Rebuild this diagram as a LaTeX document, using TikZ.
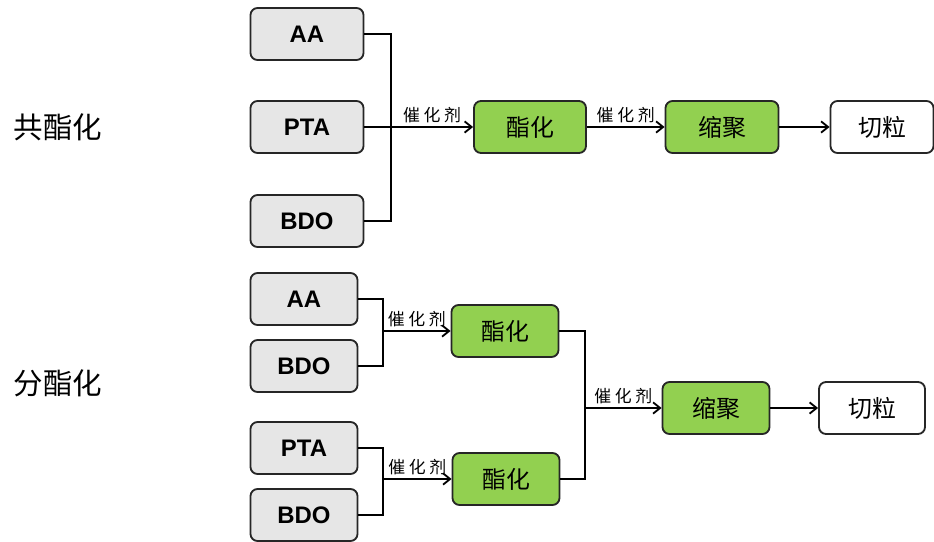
\documentclass[tikz,border=0pt]{standalone}
\usepackage{fontspec}
\setsansfont{Liberation Sans}
\newfontfamily\cjk{Noto Sans CJK SC}
\newfontfamily\cjkwide[LetterSpace=22]{Noto Sans CJK SC}
\usetikzlibrary{arrows.meta}
\definecolor{FeedGray}{RGB}{230,230,230}
\definecolor{StepGreen}{RGB}{146,208,80}

\begin{document}
\begin{tikzpicture}[x=0.025cm,y=-0.025cm,line width=1.3pt,
  box/.style n args={3}{draw=black!85,fill=#1,rounded corners=5pt,minimum width=#2*0.025cm,minimum height=#3*0.025cm,inner sep=0pt},
  feed/.style={box={FeedGray}{#1}{52},font=\sffamily\bfseries\fontsize{17}{17}\selectfont},
  proc/.style={box={StepGreen}{#1}{52},font=\cjk\fontsize{17}{17}\selectfont},
  cut/.style={box={white}{#1}{52},font=\cjk\fontsize{17}{17}\selectfont},
  cat/.style={above,inner sep=2pt,font=\cjkwide\fontsize{12}{12}\selectfont},
  arr/.style={-{Straight Barb[length=5pt,width=8pt]}}]
\useasboundingbox (0,0) rectangle (934,541);
% row labels
\node[font=\cjk\fontsize{21}{21}\selectfont] (lab1) at (58,127) {共酯化};
\node[font=\cjk\fontsize{21}{21}\selectfont] (lab2) at (58,383) {分酯化};
% co-esterification
\node[feed=113] (aa1) at (307,34) {AA};
\node[feed=113] (pta1) at (307,127) {PTA};
\node[feed=113] (bdo1) at (307,221) {BDO};
\node[proc=112] (est1) at (530,127) {酯化};
\node[proc=113] (poly1) at (722,127) {缩聚};
\node[cut=103] (pel1) at (882,127) {切粒};
\coordinate (j1) at (391,127);
\draw (aa1.east) -| (j1) |- (bdo1.east);
\draw (pta1.east) -- (j1);
\draw[arr] (j1) -- node[cat] {催化剂} (est1);
\draw[arr] (est1) -- node[cat] {催化剂} (poly1);
\draw[arr] (poly1) -- (pel1);
% separate esterification
\node[feed=107] (aa2) at (304,299) {AA};
\node[feed=107] (bdo2) at (304,366) {BDO};
\node[feed=107] (pta2) at (304,448) {PTA};
\node[feed=107] (bdo3) at (304,515) {BDO};
\node[proc=107] (est2) at (505,331) {酯化};
\node[proc=107] (est3) at (506,479) {酯化};
\node[proc=107] (poly2) at (716,408) {缩聚};
\node[cut=106] (pel2) at (872,408) {切粒};
\coordinate (j2) at (383,331);
\coordinate (j3) at (383,479);
\coordinate (j4) at (585,408);
\draw (aa2.east) -| (j2) |- (bdo2.east);
\draw (pta2.east) -| (j3) |- (bdo3.east);
\draw[arr] (j2) -- node[cat] {催化剂} (est2);
\draw[arr] (j3) -- node[cat] {催化剂} (est3);
\draw (est2.east) -| (j4) |- (est3.east);
\draw[arr] (j4) -- node[cat] {催化剂} (poly2);
\draw[arr] (poly2) -- (pel2);
\end{tikzpicture}
\end{document}
